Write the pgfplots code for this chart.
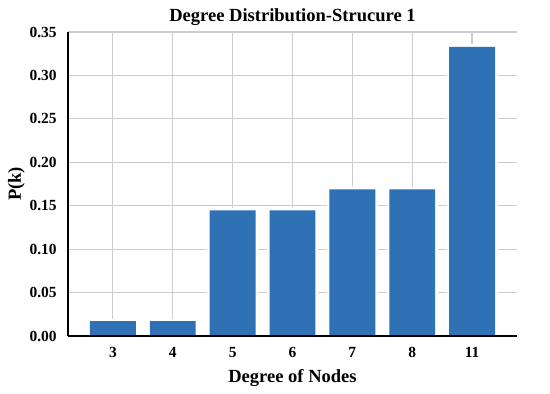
\documentclass[border=0pt]{standalone}
\usepackage{fontspec}
\setmainfont{Liberation Serif}
\usepackage{pgfplots}
\pgfplotsset{compat=1.18}
\definecolor{barblue}{RGB}{46,114,181}
\definecolor{gridgray}{RGB}{205,205,205}
\pgfplotstableread{
x deg p
0 3 0.0172
1 4 0.0172
2 5 0.1445
3 6 0.1445
4 7 0.1687
5 8 0.1687
6 11 0.3330
}\degtable
\begin{document}
\begin{tikzpicture}
\path (-51pt,-42.75pt) rectangle (361.5pt,252pt);
\begin{axis}[
  at={(0,0)}, anchor=south west,
  scale only axis, width=336.75pt, height=228pt,
  xmin=-0.75, xmax=6.75, ymin=0, ymax=0.35,
  axis x line*=bottom, axis y line*=left,
  axis line style={-, black, line width=1.2pt},
  xtick={0,...,6}, xticklabels={3,4,5,6,7,8,11},
  ytick={0,0.05,0.10,0.15,0.20,0.25,0.30,0.35},
  major tick length=0pt,
  grid=major, grid style={gridgray, line width=0.9pt},
  /pgf/number format/assume math mode=true,
  yticklabel style={/pgf/number format/fixed, /pgf/number format/fixed zerofill, /pgf/number format/precision=2, xshift=-5pt},
  scaled y ticks=false,
  ticklabel style={font=\bfseries\fontsize{11.6}{13}\selectfont},
  xticklabel style={yshift=-5pt},
  title={Degree Distribution-Strucure 1},
  title style={at={([yshift=1.5pt]axis description cs:0.5,1)}, anchor=base, font=\bfseries\fontsize{13.9}{16}\selectfont},
  xlabel={Degree of Nodes},
  xlabel style={at={([yshift=-35pt]axis description cs:0.5,0)}, anchor=base, font=\bfseries\fontsize{13.9}{16}\selectfont},
  ylabel={P(k)},
  ylabel style={at={([xshift=-38.6pt]axis description cs:0,0.5)}, anchor=center, font=\bfseries\fontsize{13.9}{16}\selectfont},
]
\addplot[ybar, bar shift=0pt, bar width=0.767, fill=white, draw=white, line width=3.75pt] table[x=x, y=p] {\degtable};
\addplot[ybar, bar shift=0pt, bar width=0.767, fill=barblue, draw=none] table[x=x, y=p] {\degtable};
\draw[black, line width=1.2pt] (rel axis cs:0,0) -- (rel axis cs:1,0);
\draw[black, line width=1.2pt] (rel axis cs:0,0) -- (rel axis cs:0,1);
\end{axis}
\end{tikzpicture}
\end{document}
